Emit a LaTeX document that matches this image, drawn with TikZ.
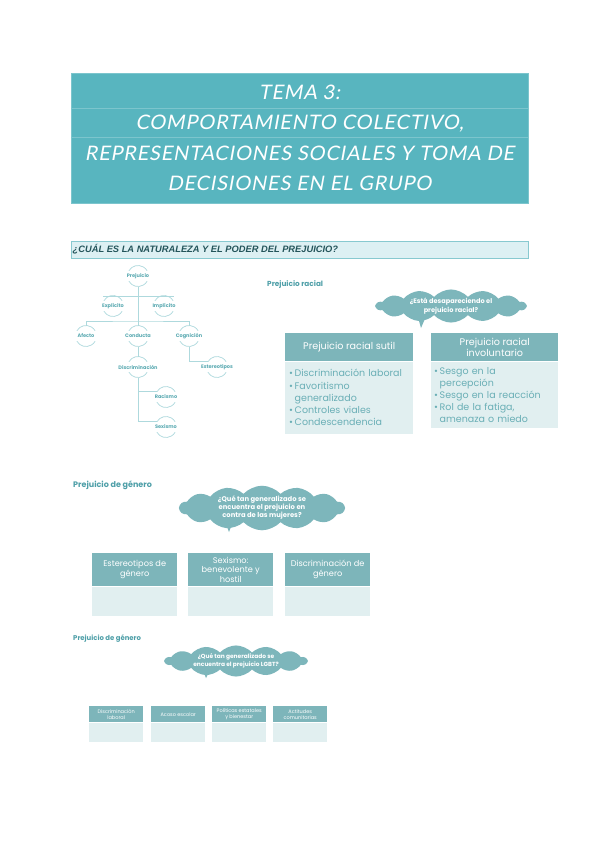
\documentclass[tikz,border=0pt]{standalone}
\usepackage{fontspec}
\setmainfont{Poppins}
\newfontfamily\titlefont[LetterSpace=4, FakeSlant=0.18]{Lato}
\newfontfamily\barfont{Liberation Sans}
\usetikzlibrary{shapes.symbols,calc}
\definecolor{titlec}{HTML}{58B5BF}
\definecolor{sepc}{HTML}{7CC5CD}
\definecolor{barf}{HTML}{DDF0F3}
\definecolor{barb}{HTML}{88C9D0}
\definecolor{bartxt}{HTML}{24545A}
\definecolor{treetxt}{HTML}{5BAAB2}
\definecolor{arcc}{HTML}{AED9DD}
\definecolor{cloudc}{HTML}{7DB6BB}
\definecolor{hdrc}{HTML}{7DB5BA}
\definecolor{bodyc}{HTML}{E1EFF0}
\definecolor{bullc}{HTML}{6AAFB6}
\definecolor{labc}{HTML}{4E9FA8}
\newcommand{\bul}{\textbullet\,}
\newcommand{\nob}{\phantom{\textbullet\,}}
\tikzset{
  titletxt/.style={font=\titlefont\fontsize{20}{22}\selectfont, text=white, inner sep=0pt},
  tnode/.style={font=\fontsize{5}{6}\selectfont\bfseries, text=treetxt, inner sep=0pt},
  tline/.style={draw=arcc, line width=0.7pt},
  arcline/.style={draw=arcc, line width=0.7pt},
  lab/.style={text=labc, inner sep=0pt, anchor=west},
  cloudn/.style={cloud, cloud puffs=14, cloud puff arc=95, cloud ignores aspect, fill=cloudc, text=white, align=center, inner sep=0pt},
  hdr/.style={fill=hdrc, text=white, align=center, inner sep=2pt, anchor=north west},
  bodyb/.style={fill=bodyc, inner sep=0pt, anchor=north},
}
\begin{document}
\begin{tikzpicture}[x=1pt,y=1pt]
\useasboundingbox (0,0) rectangle (599,-848);
\fill[white] (0,0) rectangle (599,-848);
% title
\node[fill=titlec, draw=sepc, line width=0.4pt, minimum width=457, minimum height=130, anchor=north west, inner sep=0pt] (title) at (71,-73) {};
\draw[sepc, line width=0.4pt] ($(title.north west)+(0,-35)$) -- ($(title.north east)+(0,-35)$);
\draw[sepc, line width=0.4pt] ($(title.north west)+(0,-64)$) -- ($(title.north east)+(0,-64)$);
\node[titletxt] (t1) at (299.5,-92) {TEMA 3:};
\node[titletxt] (t2) at (299.5,-124) {COMPORTAMIENTO COLECTIVO,};
\node[titletxt] (t3) at (299.5,-153) {REPRESENTACIONES SOCIALES Y TOMA DE};
\node[titletxt] (t4) at (299.5,-183) {DECISIONES EN EL GRUPO};
% section bar
\node[draw=barb, fill=barf, line width=0.8pt, minimum width=457, minimum height=17, anchor=north west, inner sep=0pt] (bar) at (71,-241) {};
\node[anchor=west, inner sep=0pt, text=bartxt, font=\barfont\fontsize{9.3}{10}\selectfont\bfseries\itshape] (bartext) at (72.5,-249.5) {¿CUÁL ES LA NATURALEZA Y EL PODER DEL PREJUICIO?};
% tree
\node[tnode] (prej) at (138,-276) {Prejuicio};
\node[tnode] (expl) at (113,-306) {Explícito};
\node[tnode] (impl) at (164,-306) {Implícito};
\node[tnode] (afec) at (86,-336) {Afecto};
\node[tnode] (cond) at (138,-336) {Conducta};
\node[tnode] (cogn) at (189,-336) {Cognición};
\node[tnode] (disc) at (138,-367) {Discriminación};
\node[tnode] (este) at (217,-367) {Estereotipos};
\node[tnode] (raci) at (166,-397) {Racismo};
\node[tnode] (sexi) at (166,-427) {Sexismo};
\foreach \n in {prej,expl,impl,afec,cond,cogn,disc,este,raci,sexi}{
  \draw[arcline] ($(\n.center)+(150:10.5pt)$) arc[start angle=150, end angle=30, radius=10.5pt];
  \draw[arcline] ($(\n.center)+(210:10.5pt)$) arc[start angle=210, end angle=330, radius=10.5pt];
}
\coordinate (hb) at (138,-321);
\draw[tline] ($(prej.center)+(0,-10.5)$) -- ($(cond.center)+(0,10.5)$);
\draw[tline] ($(expl.center)+(-10,9.5)$) -- ($(impl.center)+(10,9.5)$);
\draw[tline] ($(afec.center)+(0,10.5)$) |- (hb) -| ($(cogn.center)+(0,10.5)$);
\draw[tline] ($(cond.center)+(0,-10.5)$) -- ($(disc.center)+(0,10.5)$);
\draw[tline] ($(cogn.center)+(0,-10.5)$) |- ($(este.center)+(150:10.5pt)$);
\draw[tline] ($(disc.center)+(0,-10.5)$) |- ($(raci.center)+(150:10.5pt)$);
\draw[tline] ($(disc.center)+(0,-10.5)$) |- ($(sexi.center)+(150:10.5pt)$);
% racial
\node[lab, font=\fontsize{7.3}{8}\selectfont\bfseries] (lracial) at (267,-285) {Prejuicio racial};
\node[cloudn, font=\fontsize{6.6}{8.5}\selectfont\bfseries, minimum width=150, minimum height=26] (c1) at (451,-306) {¿Está desapareciendo el\\prejuicio racial?};
\fill[cloudc] ($(c1.center)+(-34,-8)$) -- ($(c1.center)+(-24,-8)$) -- ($(c1.center)+(-30,-22)$) -- cycle;
\node[hdr, minimum width=128, minimum height=28, font=\fontsize{9.6}{11}\selectfont] (rh1) at (285,-333) {Prejuicio racial sutil};
\node[bodyb, minimum width=128, minimum height=72, text width=120, align=left, text=bullc, font=\fontsize{9.5}{12.3}\selectfont] (rb1) at (rh1.south) {\bul Discriminación laboral\\\bul Favoritismo\\\nob generalizado\\\bul Controles viales\\\bul Condescendencia};
\node[hdr, minimum width=127, minimum height=28, font=\fontsize{9.6}{11.5}\selectfont] (rh2) at (431,-333) {Prejuicio racial\\involuntario};
\node[bodyb, minimum width=127, minimum height=66, text width=121, align=left, text=bullc, font=\fontsize{9.5}{12}\selectfont] (rb2) at (rh2.south) {\bul Sesgo en la\\\nob percepción\\\bul Sesgo en la reacción\\\bul Rol de la fatiga,\\\nob amenaza o miedo};
% genero
\node[lab, font=\fontsize{8}{9}\selectfont\bfseries] (lgen) at (73,-485) {Prejuicio de género};
\node[cloudn, font=\fontsize{6.8}{8}\selectfont\bfseries, minimum width=165, minimum height=32] (c2) at (262,-508) {¿Qué tan generalizado se\\encuentra el prejuicio en\\contra de las mujeres?};
\fill[cloudc] ($(c2.center)+(-38,-11)$) -- ($(c2.center)+(-28,-11)$) -- ($(c2.center)+(-33,-24)$) -- cycle;
\node[hdr, minimum width=85, minimum height=33, font=\fontsize{8.2}{10}\selectfont] (gh1) at (92,-553) {Estereotipos de\\género};
\node[bodyb, minimum width=85, minimum height=29] (gb1) at (gh1.south) {};
\node[hdr, minimum width=85, minimum height=33, font=\fontsize{8.2}{9.5}\selectfont] (gh2) at (188,-553) {Sexismo:\\benevolente y\\hostil};
\node[bodyb, minimum width=85, minimum height=29] (gb2) at (gh2.south) {};
\node[hdr, minimum width=85, minimum height=33, font=\fontsize{8.2}{10}\selectfont] (gh3) at (285,-553) {Discriminación de\\género};
\node[bodyb, minimum width=85, minimum height=29] (gb3) at (gh3.south) {};
% lgbt
\node[lab, font=\fontsize{6.9}{8}\selectfont\bfseries] (llgbt) at (73,-639) {Prejuicio de género};
\node[cloudn, font=\fontsize{5.9}{7.5}\selectfont\bfseries, minimum width=142, minimum height=23] (c3) at (236,-661) {¿Qué tan generalizado se\\encuentra el prejuicio LGBT?};
\fill[cloudc] ($(c3.center)+(-34,-7)$) -- ($(c3.center)+(-25,-7)$) -- ($(c3.center)+(-30,-17)$) -- cycle;
\node[hdr, minimum width=54, minimum height=16, inner sep=1pt, font=\fontsize{5}{6}\selectfont] (lh1) at (89,-706) {Discriminación\\laboral};
\node[bodyb, minimum width=54, minimum height=19] (lb1) at (lh1.south) {};
\node[hdr, minimum width=54, minimum height=16, inner sep=1pt, font=\fontsize{5}{6}\selectfont] (lh2) at (151,-706) {Acoso escolar};
\node[bodyb, minimum width=54, minimum height=19] (lb2) at (lh2.south) {};
\node[hdr, minimum width=54, minimum height=16, inner sep=1pt, font=\fontsize{5}{6}\selectfont] (lh3) at (212,-706) {Políticas estatales\\y bienestar};
\node[bodyb, minimum width=54, minimum height=19] (lb3) at (lh3.south) {};
\node[hdr, minimum width=54, minimum height=16, inner sep=1pt, font=\fontsize{5}{6}\selectfont] (lh4) at (273,-706) {Actitudes\\comunitarias};
\node[bodyb, minimum width=54, minimum height=19] (lb4) at (lh4.south) {};
\end{tikzpicture}
\end{document}
